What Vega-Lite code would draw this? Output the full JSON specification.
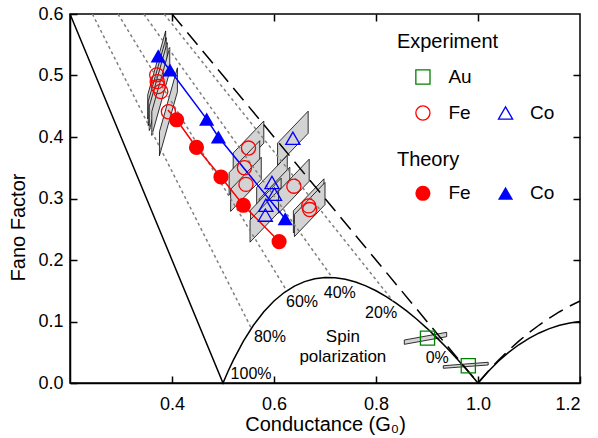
{
  "$schema": "https://vega.github.io/schema/vega-lite/v6.json",
  "width": 510,
  "height": 369,
  "autosize": {"type": "none"},
  "padding": {"left": 70, "top": 14, "right": 18, "bottom": 55},
  "background": "white",
  "config": {
    "view": {"stroke": "black", "strokeWidth": 1.5},
    "font": "Liberation Sans",
    "axis": {
      "domainColor": "black", "domainWidth": 1.5, "tickColor": "black", "tickWidth": 1.5,
      "tickSize": -7, "grid": false, "labelColor": "black", "titleColor": "black",
      "labelFont": "Liberation Sans", "titleFont": "Liberation Sans",
      "labelFontSize": 18, "titleFontSize": 20, "titleFontWeight": 400
    },
    "style": {"guide-title": {"fontWeight": 400}},
    "text": {"font": "Liberation Sans", "color": "black"}
  },
  "datasets": {
    "boxes": [
      {"pid": "c1a", "g": 0.3524, "lo": 0.4295, "hi": 0.4685}, {"pid": "c1a", "g": 0.3876, "lo": 0.5335, "hi": 0.5725},
      {"pid": "c1b", "g": 0.3534, "lo": 0.4185, "hi": 0.4575}, {"pid": "c1b", "g": 0.3886, "lo": 0.5225, "hi": 0.5615},
      {"pid": "c1c", "g": 0.3554, "lo": 0.4105, "hi": 0.4495}, {"pid": "c1c", "g": 0.3906, "lo": 0.5145, "hi": 0.5535},
      {"pid": "c1d", "g": 0.3604, "lo": 0.4025, "hi": 0.4415}, {"pid": "c1d", "g": 0.3956, "lo": 0.5065, "hi": 0.5455},
      {"pid": "c1e", "g": 0.3754, "lo": 0.3695, "hi": 0.4085}, {"pid": "c1e", "g": 0.4106, "lo": 0.4735, "hi": 0.5125},
      {"pid": "f1", "g": 0.520, "lo": 0.338, "hi": 0.374}, {"pid": "f1", "g": 0.580, "lo": 0.390, "hi": 0.426},
      {"pid": "f2", "g": 0.512, "lo": 0.306, "hi": 0.342}, {"pid": "f2", "g": 0.572, "lo": 0.358, "hi": 0.394},
      {"pid": "f3", "g": 0.515, "lo": 0.279, "hi": 0.315}, {"pid": "f3", "g": 0.575, "lo": 0.331, "hi": 0.367},
      {"pid": "t1", "g": 0.607, "lo": 0.354, "hi": 0.390}, {"pid": "t1", "g": 0.667, "lo": 0.406, "hi": 0.442},
      {"pid": "t2", "g": 0.566, "lo": 0.282, "hi": 0.318}, {"pid": "t2", "g": 0.626, "lo": 0.334, "hi": 0.370},
      {"pid": "t3", "g": 0.571, "lo": 0.263, "hi": 0.299}, {"pid": "t3", "g": 0.631, "lo": 0.315, "hi": 0.351},
      {"pid": "t4", "g": 0.554, "lo": 0.245, "hi": 0.281}, {"pid": "t4", "g": 0.614, "lo": 0.297, "hi": 0.333},
      {"pid": "t5", "g": 0.553, "lo": 0.229, "hi": 0.265}, {"pid": "t5", "g": 0.613, "lo": 0.281, "hi": 0.317},
      {"pid": "f4", "g": 0.609, "lo": 0.276, "hi": 0.312}, {"pid": "f4", "g": 0.669, "lo": 0.328, "hi": 0.364},
      {"pid": "f5", "g": 0.638, "lo": 0.244, "hi": 0.280}, {"pid": "f5", "g": 0.698, "lo": 0.296, "hi": 0.332},
      {"pid": "f6", "g": 0.640, "lo": 0.238, "hi": 0.274}, {"pid": "f6", "g": 0.700, "lo": 0.290, "hi": 0.326},
      {"pid": "a1", "g": 0.8555, "lo": 0.0629, "hi": 0.0699}, {"pid": "a1", "g": 0.9386, "lo": 0.0753, "hi": 0.0824},
      {"pid": "a2", "g": 0.932, "lo": 0.0239, "hi": 0.0281}, {"pid": "a2", "g": 1.02, "lo": 0.0293, "hi": 0.0337}
    ],
    "curves": [
      {"c": "s100", "g": 0.2, "f": 0.6}, {"c": "s100", "g": 0.5, "f": 0},
      {"c": "s100", "g": 0.51, "f": 0.0192},
      {"c": "s100", "g": 0.52, "f": 0.0369}, {"c": "s100", "g": 0.54, "f": 0.0681},
      {"c": "s100", "g": 0.56, "f": 0.0943}, {"c": "s100", "g": 0.58, "f": 0.1159},
      {"c": "s100", "g": 0.60, "f": 0.1333}, {"c": "s100", "g": 0.62, "f": 0.1471},
      {"c": "s100", "g": 0.64, "f": 0.1575}, {"c": "s100", "g": 0.66, "f": 0.1648},
      {"c": "s100", "g": 0.68, "f": 0.1694}, {"c": "s100", "g": 0.70, "f": 0.1714},
      {"c": "s100", "g": 0.72, "f": 0.1711}, {"c": "s100", "g": 0.74, "f": 0.1686},
      {"c": "s100", "g": 0.76, "f": 0.1642}, {"c": "s100", "g": 0.78, "f": 0.1579},
      {"c": "s100", "g": 0.80, "f": 0.15}, {"c": "s100", "g": 0.82, "f": 0.1405},
      {"c": "s100", "g": 0.84, "f": 0.1295}, {"c": "s100", "g": 0.86, "f": 0.1172},
      {"c": "s100", "g": 0.88, "f": 0.1036}, {"c": "s100", "g": 0.90, "f": 0.0889},
      {"c": "s100", "g": 0.92, "f": 0.0730}, {"c": "s100", "g": 0.94, "f": 0.0562},
      {"c": "s100", "g": 0.96, "f": 0.0383}, {"c": "s100", "g": 0.98, "f": 0.0196},
      {"c": "s100", "g": 1.0, "f": 0}, {"c": "s100", "g": 1.02, "f": 0.0188},
      {"c": "s100", "g": 1.04, "f": 0.0354}, {"c": "s100", "g": 1.06, "f": 0.0498},
      {"c": "s100", "g": 1.08, "f": 0.0622}, {"c": "s100", "g": 1.10, "f": 0.0727},
      {"c": "s100", "g": 1.12, "f": 0.0814}, {"c": "s100", "g": 1.14, "f": 0.0884},
      {"c": "s100", "g": 1.16, "f": 0.0938}, {"c": "s100", "g": 1.18, "f": 0.0976},
      {"c": "s100", "g": 1.2, "f": 0.1},
      {"c": "d0", "g": 0.4, "f": 0.6}, {"c": "d0", "g": 1.0, "f": 0},
      {"c": "d0", "g": 1.02, "f": 0.0192}, {"c": "d0", "g": 1.04, "f": 0.0369},
      {"c": "d0", "g": 1.06, "f": 0.0532}, {"c": "d0", "g": 1.08, "f": 0.0681},
      {"c": "d0", "g": 1.10, "f": 0.0818}, {"c": "d0", "g": 1.12, "f": 0.0943},
      {"c": "d0", "g": 1.14, "f": 0.1056}, {"c": "d0", "g": 1.16, "f": 0.1159},
      {"c": "d0", "g": 1.18, "f": 0.1251}, {"c": "d0", "g": 1.2, "f": 0.1333},
      {"c": "p20", "g": 0.3846, "f": 0.6}, {"c": "p20", "g": 0.8333, "f": 0.1333},
      {"c": "p40", "g": 0.3448, "f": 0.6}, {"c": "p40", "g": 0.7143, "f": 0.1714},
      {"c": "p60", "g": 0.2941, "f": 0.6}, {"c": "p60", "g": 0.625, "f": 0.15},
      {"c": "p80", "g": 0.2439, "f": 0.6}, {"c": "p80", "g": 0.5556, "f": 0.0889}
    ],
    "theoryLines": [
      {"kind": "Fe", "g": 0.392, "f": 0.444}, {"kind": "Fe", "g": 0.409, "f": 0.428},
      {"kind": "Fe", "g": 0.448, "f": 0.383}, {"kind": "Fe", "g": 0.496, "f": 0.335},
      {"kind": "Fe", "g": 0.540, "f": 0.289}, {"kind": "Fe", "g": 0.610, "f": 0.230},
      {"kind": "Co", "g": 0.373, "f": 0.532}, {"kind": "Co", "g": 0.396, "f": 0.509},
      {"kind": "Co", "g": 0.468, "f": 0.429}, {"kind": "Co", "g": 0.491, "f": 0.400},
      {"kind": "Co", "g": 0.622, "f": 0.267}
    ],
    "points": [
      {"type": "exp", "kind": "Au", "g": 0.901, "f": 0.073}, {"type": "exp", "kind": "Au", "g": 0.981, "f": 0.028},
      {"type": "exp", "kind": "Fe", "g": 0.370, "f": 0.501}, {"type": "exp", "kind": "Fe", "g": 0.371, "f": 0.490},
      {"type": "exp", "kind": "Fe", "g": 0.373, "f": 0.482}, {"type": "exp", "kind": "Fe", "g": 0.378, "f": 0.474},
      {"type": "exp", "kind": "Fe", "g": 0.393, "f": 0.441}, {"type": "exp", "kind": "Fe", "g": 0.550, "f": 0.382},
      {"type": "exp", "kind": "Fe", "g": 0.542, "f": 0.350}, {"type": "exp", "kind": "Fe", "g": 0.545, "f": 0.323},
      {"type": "exp", "kind": "Fe", "g": 0.639, "f": 0.320}, {"type": "exp", "kind": "Fe", "g": 0.668, "f": 0.288},
      {"type": "exp", "kind": "Fe", "g": 0.670, "f": 0.282},
      {"type": "exp", "kind": "Co", "g": 0.637, "f": 0.398}, {"type": "exp", "kind": "Co", "g": 0.596, "f": 0.326},
      {"type": "exp", "kind": "Co", "g": 0.601, "f": 0.307}, {"type": "exp", "kind": "Co", "g": 0.584, "f": 0.289},
      {"type": "exp", "kind": "Co", "g": 0.583, "f": 0.273},
      {"type": "exp", "kind": "Au", "g": 0.892, "f": 0.4976}, {"type": "exp", "kind": "Fe", "g": 0.892, "f": 0.439},
      {"type": "exp", "kind": "Co", "g": 1.054, "f": 0.439},
      {"type": "th", "kind": "Fe", "g": 0.409, "f": 0.428}, {"type": "th", "kind": "Fe", "g": 0.448, "f": 0.383},
      {"type": "th", "kind": "Fe", "g": 0.496, "f": 0.335}, {"type": "th", "kind": "Fe", "g": 0.540, "f": 0.289},
      {"type": "th", "kind": "Fe", "g": 0.610, "f": 0.230},
      {"type": "th", "kind": "Co", "g": 0.373, "f": 0.532}, {"type": "th", "kind": "Co", "g": 0.396, "f": 0.509},
      {"type": "th", "kind": "Co", "g": 0.468, "f": 0.429}, {"type": "th", "kind": "Co", "g": 0.491, "f": 0.400},
      {"type": "th", "kind": "Co", "g": 0.622, "f": 0.267},
      {"type": "th", "kind": "Fe", "g": 0.892, "f": 0.3085}, {"type": "th", "kind": "Co", "g": 1.054, "f": 0.3085}
    ],
    "labels": [
      {"grp": "pct", "t": "100%", "g": 0.555, "f": 0.014},
      {"grp": "pct", "t": "80%", "g": 0.592, "f": 0.075},
      {"grp": "pct", "t": "60%", "g": 0.655, "f": 0.132},
      {"grp": "pct", "t": "40%", "g": 0.729, "f": 0.146},
      {"grp": "pct", "t": "20%", "g": 0.810, "f": 0.114},
      {"grp": "pct", "t": "0%", "g": 0.920, "f": 0.041},
      {"grp": "spin", "t": "Spin", "g": 0.735, "f": 0.075},
      {"grp": "spin", "t": "polarization", "g": 0.735, "f": 0.043},
      {"grp": "head", "t": "Experiment", "g": 0.841, "f": 0.555},
      {"grp": "head", "t": "Theory", "g": 0.841, "f": 0.3626},
      {"grp": "item", "t": "Au", "g": 0.942, "f": 0.4976},
      {"grp": "item", "t": "Fe", "g": 0.942, "f": 0.439},
      {"grp": "item", "t": "Co", "g": 1.102, "f": 0.439},
      {"grp": "item", "t": "Fe", "g": 0.942, "f": 0.3085},
      {"grp": "item", "t": "Co", "g": 1.102, "f": 0.3085}
    ]
  },
  "layer": [
    {
      "data": {"name": "boxes"},
      "mark": {"type": "area", "fill": "#d3d3d3", "stroke": "black", "strokeWidth": 0.8, "opacity": 1},
      "encoding": {
        "x": {"field": "g", "type": "quantitative", "scale": {"domain": [0.2, 1.2], "nice": false},
          "axis": {"orient": "bottom", "values": [0.4, 0.6, 0.8, 1.0, 1.2], "format": ".1f", "title": "Conductance  (G₀)", "titleFontWeight": 400, "labelPadding": 19, "titlePadding": 1, "tickSize": -7}},
        "y": {"field": "lo", "type": "quantitative", "scale": {"domain": [0, 0.6], "nice": false},
          "axis": {"orient": "left", "values": [0, 0.1, 0.2, 0.3, 0.4, 0.5, 0.6], "format": ".1f", "title": "Fano Factor", "titleFontWeight": 400, "labelPadding": 14, "tickSize": -7, "titleX": -42, "titleY": 213}},
        "y2": {"field": "hi"},
        "detail": {"field": "pid"}
      }
    },
    {
      "data": {"name": "curves"},
      "transform": [{"filter": "datum.c == 's100'"}],
      "mark": {"type": "line", "color": "black", "strokeWidth": 1.5},
      "encoding": {
        "x": {"field": "g", "type": "quantitative", "scale": {"domain": [0.2, 1.2], "nice": false},
          "axis": {"orient": "top", "values": [0.4, 0.6, 0.8, 1.0], "labels": false, "title": null, "domain": false, "tickSize": -7}},
        "y": {"field": "f", "type": "quantitative", "scale": {"domain": [0, 0.6], "nice": false},
          "axis": {"orient": "right", "values": [0.1, 0.2, 0.3, 0.4, 0.5], "labels": false, "title": null, "domain": false, "tickSize": -7}}
      }
    },
    {
      "data": {"name": "curves"},
      "transform": [{"filter": "datum.c == 'd0'"}],
      "mark": {"type": "line", "color": "black", "strokeWidth": 1.5, "strokeDash": [16, 8]},
      "encoding": {
        "x": {"field": "g", "type": "quantitative", "scale": {"domain": [0.2, 1.2], "nice": false}, "axis": null},
        "y": {"field": "f", "type": "quantitative", "scale": {"domain": [0, 0.6], "nice": false}, "axis": null}
      }
    },
    {
      "data": {"name": "curves"},
      "transform": [{"filter": "indexof(['p20','p40','p60','p80'], datum.c) >= 0"}],
      "mark": {"type": "line", "color": "#808080", "strokeWidth": 1.5, "strokeDash": [3, 3]},
      "encoding": {
        "x": {"field": "g", "type": "quantitative", "scale": {"domain": [0.2, 1.2], "nice": false}, "axis": null},
        "y": {"field": "f", "type": "quantitative", "scale": {"domain": [0, 0.6], "nice": false}, "axis": null},
        "detail": {"field": "c"}
      }
    },
    {
      "data": {"name": "theoryLines"},
      "mark": {"type": "line", "strokeWidth": 1.5},
      "encoding": {
        "x": {"field": "g", "type": "quantitative", "scale": {"domain": [0.2, 1.2], "nice": false}, "axis": null},
        "y": {"field": "f", "type": "quantitative", "scale": {"domain": [0, 0.6], "nice": false}, "axis": null},
        "color": {"field": "kind", "type": "nominal", "scale": {"domain": ["Au", "Fe", "Co"], "range": ["#008000", "#ff0000", "#0000ff"]}, "legend": null}
      }
    },
    {
      "data": {"name": "points"},
      "transform": [{"filter": "datum.type == 'exp'"}],
      "mark": {"type": "point", "filled": false, "strokeWidth": 1.3, "opacity": 1, "size": 200},
      "encoding": {
        "x": {"field": "g", "type": "quantitative", "scale": {"domain": [0.2, 1.2], "nice": false}, "axis": null},
        "y": {"field": "f", "type": "quantitative", "scale": {"domain": [0, 0.6], "nice": false}, "axis": null},
        "color": {"field": "kind", "type": "nominal", "scale": {"domain": ["Au", "Fe", "Co"], "range": ["#008000", "#ff0000", "#0000ff"]}, "legend": null},
        "shape": {"field": "kind", "type": "nominal", "scale": {"domain": ["Au", "Fe", "Co"], "range": ["square", "circle", "triangle-up"]}, "legend": null}
      }
    },
    {
      "data": {"name": "points"},
      "transform": [{"filter": "datum.type == 'th'"}],
      "mark": {"type": "point", "filled": true, "opacity": 1, "size": 230},
      "encoding": {
        "x": {"field": "g", "type": "quantitative", "scale": {"domain": [0.2, 1.2], "nice": false}, "axis": null},
        "y": {"field": "f", "type": "quantitative", "scale": {"domain": [0, 0.6], "nice": false}, "axis": null},
        "color": {"field": "kind", "type": "nominal", "scale": {"domain": ["Au", "Fe", "Co"], "range": ["#008000", "#ff0000", "#0000ff"]}, "legend": null},
        "shape": {"field": "kind", "type": "nominal", "scale": {"domain": ["Au", "Fe", "Co"], "range": ["square", "circle", "triangle-up"]}, "legend": null}
      }
    },
    {
      "data": {"name": "labels"},
      "transform": [{"filter": "datum.grp == 'pct'"}],
      "mark": {"type": "text", "fontSize": 16, "align": "center", "baseline": "middle"},
      "encoding": {
        "x": {"field": "g", "type": "quantitative", "scale": {"domain": [0.2, 1.2], "nice": false}, "axis": null},
        "y": {"field": "f", "type": "quantitative", "scale": {"domain": [0, 0.6], "nice": false}, "axis": null},
        "text": {"field": "t"}
      }
    },
    {
      "data": {"name": "labels"},
      "transform": [{"filter": "datum.grp == 'spin'"}],
      "mark": {"type": "text", "fontSize": 17, "align": "center", "baseline": "middle"},
      "encoding": {
        "x": {"field": "g", "type": "quantitative", "scale": {"domain": [0.2, 1.2], "nice": false}, "axis": null},
        "y": {"field": "f", "type": "quantitative", "scale": {"domain": [0, 0.6], "nice": false}, "axis": null},
        "text": {"field": "t"}
      }
    },
    {
      "data": {"name": "labels"},
      "transform": [{"filter": "datum.grp == 'head'"}],
      "mark": {"type": "text", "fontSize": 20, "align": "left", "baseline": "middle"},
      "encoding": {
        "x": {"field": "g", "type": "quantitative", "scale": {"domain": [0.2, 1.2], "nice": false}, "axis": null},
        "y": {"field": "f", "type": "quantitative", "scale": {"domain": [0, 0.6], "nice": false}, "axis": null},
        "text": {"field": "t"}
      }
    },
    {
      "data": {"name": "labels"},
      "transform": [{"filter": "datum.grp == 'item'"}],
      "mark": {"type": "text", "fontSize": 19, "align": "left", "baseline": "middle"},
      "encoding": {
        "x": {"field": "g", "type": "quantitative", "scale": {"domain": [0.2, 1.2], "nice": false}, "axis": null},
        "y": {"field": "f", "type": "quantitative", "scale": {"domain": [0, 0.6], "nice": false}, "axis": null},
        "text": {"field": "t"}
      }
    }
  ],
  "resolve": {"axis": {"x": "independent", "y": "independent"}}
}
